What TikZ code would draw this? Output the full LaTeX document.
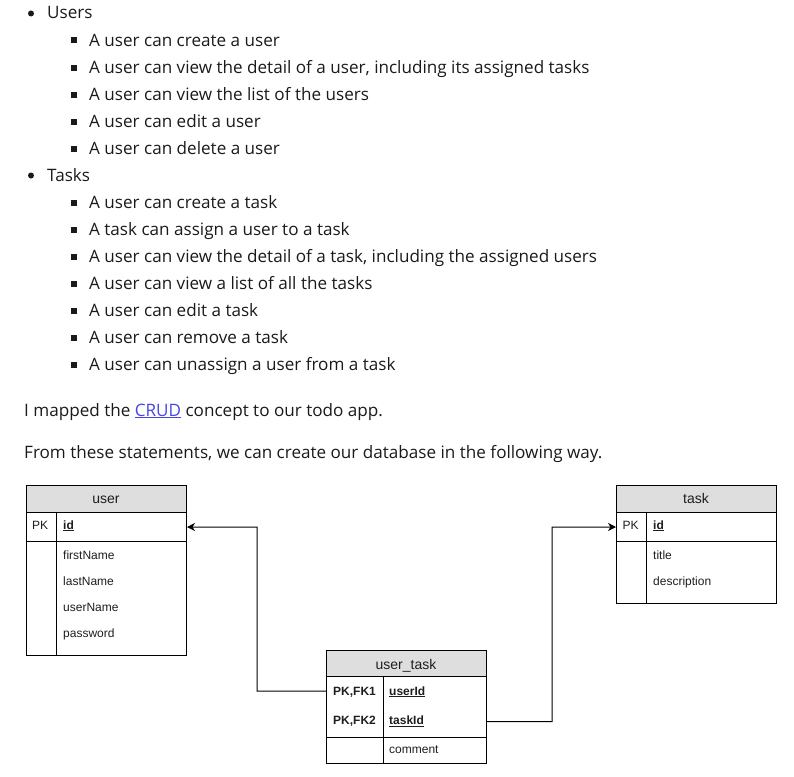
\documentclass[tikz,border=0pt]{standalone}
\usepackage{fontspec}
\setmainfont{Open Sans}
\newfontfamily\fldfam{Liberation Sans}
\usetikzlibrary{arrows.meta}
\definecolor{txtcol}{HTML}{1A1A1A}
\definecolor{linkblue}{HTML}{4646E6}
\definecolor{hdrgray}{HTML}{DEDEDE}
\definecolor{fldcol}{HTML}{1E1E1E}
\newcommand{\bodysize}{\fontsize{17.1pt}{20pt}\selectfont}
\newcommand{\fldsize}{\fldfam\fontsize{12pt}{14pt}\selectfont}
\newcommand{\hdrsize}{\fldfam\fontsize{14pt}{16pt}\selectfont}
\begin{document}
\begin{tikzpicture}[x=1pt,y=-1pt,
  body/.style={font=\bodysize, text=txtcol, anchor=base west, inner sep=0pt},
  fld/.style={font=\fldsize, text=fldcol, anchor=base west, inner sep=0pt},
  fldb/.style={fld, font=\fldsize\bfseries},
  hdrtxt/.style={font=\hdrsize, text=fldcol, anchor=base, inner sep=0pt},
  frame/.style={draw=black, line width=1pt, inner sep=0pt, minimum width=160pt, anchor=north west},
  hdr/.style={frame, fill=hdrgray},
  rowbox/.style={inner sep=0pt, minimum width=160pt, anchor=north west},
  conn/.style={draw=black, line width=1pt, -{Stealth[length=8pt,width=8pt,inset=2.5pt]}},
  dot/.style={fill=txtcol}
]
\useasboundingbox (0,0) rectangle (794,776);

% ---------- text list ----------
\fill[dot] (31,13.5) circle (3pt);
\node[body] (t1) at (47,19) {Users};
\foreach \yy in {46,73,100,127,154,208,235,262,289,316,343,370}{
  \fill[dot] (70.5,\yy-8.5) rectangle (76.5,\yy-2.5);
}
\node[body] (u1) at (89,46) {A user can create a user};
\node[body] (u2) at (89,73) {A user can view the detail of a user, including its assigned tasks};
\node[body] (u3) at (89,100) {A user can view the list of the users};
\node[body] (u4) at (89,127) {A user can edit a user};
\node[body] (u5) at (89,154) {A user can delete a user};
\fill[dot] (31,175.5) circle (3pt);
\node[body] (t2) at (47,181) {Tasks};
\node[body] (k1) at (89,208) {A user can create a task};
\node[body] (k2) at (89,235) {A task can assign a user to a task};
\node[body] (k3) at (89,262) {A user can view the detail of a task, including the assigned users};
\node[body] (k4) at (89,289) {A user can view a list of all the tasks};
\node[body] (k5) at (89,316) {A user can edit a task};
\node[body] (k6) at (89,343) {A user can remove a task};
\node[body] (k7) at (89,370) {A user can unassign a user from a task};
\node[body] (p1) at (24,416) {I mapped the \textcolor{linkblue}{\underline{CRUD}} concept to our todo app.};
\node[body] (p2) at (24,458) {From these statements, we can create our database in the following way.};

% ---------- user table ----------
\node[hdr, minimum height=27pt] (uh) at (26,485) {};
\node[frame, minimum height=29pt] (uid) at (26,512) {};
\node[frame, minimum height=114pt] (ub) at (26,541) {};
\draw[line width=1pt] (56,512) -- (56,655);
\node[hdrtxt] (uht) at (106,503) {user};
\node[fld] (upk) at (32,529) {PK};
\node[fldb] (uidt) at (63,529) {\underline{id}};
\node[fld] (uf1) at (63,559) {firstName};
\node[fld] (uf2) at (63,585) {lastName};
\node[fld] (uf3) at (63,611) {userName};
\node[fld] (uf4) at (63,637) {password};

% ---------- task table ----------
\node[hdr, minimum height=27pt] (th) at (616,485) {};
\node[frame, minimum height=29pt] (tid) at (616,512) {};
\node[frame, minimum height=62pt] (tb) at (616,541) {};
\draw[line width=1pt] (646.5,512) -- (646.5,603);
\node[hdrtxt] (tht) at (696,503) {task};
\node[fld] (tpk) at (622.5,529) {PK};
\node[fldb] (tidt) at (653,529) {\underline{id}};
\node[fld] (tf1) at (653,559) {title};
\node[fld] (tf2) at (653,585) {description};

% ---------- user_task table ----------
\node[hdr, minimum height=26pt] (uth) at (326,650) {};
\node[frame, minimum height=61pt] (utk) at (326,676) {};
\node[rowbox, minimum height=30pt] (utu) at (326,676) {};
\node[rowbox, minimum height=31pt] (utt) at (326,706) {};
\node[frame, minimum height=26pt] (utc) at (326,737) {};
\draw[line width=1pt] (383,676) -- (383,763);
\node[hdrtxt] (utht) at (406,669) {user\_task};
\node[fldb] (utpk1) at (333,695) {PK,FK1};
\node[fldb] (utf1) at (389,695) {\underline{userId}};
\node[fldb] (utpk2) at (333,724.5) {PK,FK2};
\node[fldb] (utf2) at (389,724.5) {\underline{taskId}};
\node[fld] (utf3) at (389,753.5) {comment};

% ---------- connectors ----------
\draw[conn] (utu.west) -- (257,691) |- (uid.east);
\draw[conn] (utt.east) -- (552,721.5) |- (tid.west);
\end{tikzpicture}
\end{document}
